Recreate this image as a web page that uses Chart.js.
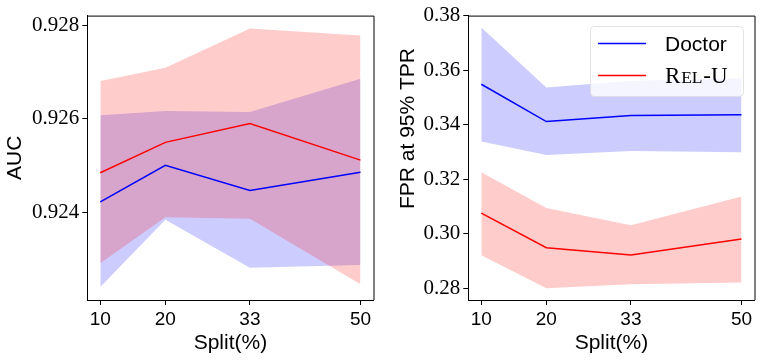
<!DOCTYPE html>
<html>
<head>
<meta charset="utf-8">
<script src="https://cdn.jsdelivr.net/npm/chart.js"></script>
<style>
  body { margin: 0; background: #fff; }
  .panel { position: absolute; top: 0; width: 381px; height: 363px; }
</style>
</head>
<body>
<div class="panel" style="left:0"><canvas id="aucChart" width="381" height="363"></canvas></div>
<div class="panel" style="left:381px"><canvas id="fprChart" width="381" height="363"></canvas></div>
<script>
const splits = [10, 20, 33, 50];

const aucDoctor   = [0.92423, 0.92501, 0.92447, 0.92486];
const aucDoctorLo = [0.92241, 0.92385, 0.92282, 0.92288];
const aucDoctorHi = [0.92608, 0.92617, 0.92615, 0.92686];
const aucRelu     = [0.92485, 0.92550, 0.92590, 0.92512];
const aucReluLo   = [0.92292, 0.92390, 0.92387, 0.92247];
const aucReluHi   = [0.92681, 0.92709, 0.92793, 0.92778];

const fprDoctor   = [0.3549, 0.3412, 0.3434, 0.3437];
const fprDoctorLo = [0.3339, 0.3289, 0.3304, 0.3299];
const fprDoctorHi = [0.3757, 0.3537, 0.3562, 0.3571];
const fprRelu     = [0.3076, 0.2949, 0.2922, 0.2981];
const fprReluLo   = [0.2921, 0.2800, 0.2815, 0.2821];
const fprReluHi   = [0.3226, 0.3095, 0.3031, 0.3137];

const aucTicks = [0.924, 0.926, 0.928];
const fprTicks = [0.28, 0.30, 0.32, 0.34, 0.36, 0.38];

const BLUE = 'rgb(0,0,255)';
const RED = 'rgb(255,0,0)';
const BLUE_BAND = 'rgba(0,0,255,0.2)';
const RED_BAND = 'rgba(255,0,0,0.2)';

const pts = arr => splits.map((s, i) => ({x: s, y: arr[i]}));

function makeDatasets(doc, docLo, docHi, rel, relLo, relHi) {
  return [
    {label: 'Doctor', data: pts(doc), borderColor: BLUE, borderWidth: 1.5, pointRadius: 0, fill: false, order: 0},
    {label: 'Rel-U', data: pts(rel), borderColor: RED, borderWidth: 1.5, pointRadius: 0, fill: false, order: 0},
    {label: '', data: pts(docHi), borderWidth: 0, pointRadius: 0, fill: false, order: 3},
    {label: '', data: pts(docLo), borderWidth: 0, pointRadius: 0, fill: 2, backgroundColor: BLUE_BAND, order: 2},
    {label: '', data: pts(relHi), borderWidth: 0, pointRadius: 0, fill: false, order: 3},
    {label: '', data: pts(relLo), borderWidth: 0, pointRadius: 0, fill: 4, backgroundColor: RED_BAND, order: 1}
  ];
}

// top and right spines
const framePlugin = {
  id: 'frame',
  afterDraw(chart) {
    const {ctx, chartArea: a} = chart;
    ctx.save();
    ctx.strokeStyle = '#000';
    ctx.lineWidth = 1;
    ctx.beginPath();
    ctx.moveTo(a.left, a.top + 0.5);
    ctx.lineTo(a.right + 0.5, a.top + 0.5);
    ctx.lineTo(a.right + 0.5, a.bottom);
    ctx.stroke();
    ctx.restore();
  }
};

// legend inside the plot, upper right
const insideLegend = {
  id: 'insideLegend',
  afterDraw(chart) {
    const ctx = chart.ctx;
    ctx.save();
    ctx.fillStyle = 'rgba(255,255,255,0.8)';
    ctx.strokeStyle = 'rgba(220,220,220,0.8)';
    ctx.lineWidth = 1;
    ctx.beginPath();
    ctx.roundRect(209.5, 26.5, 153, 70, 4);
    ctx.fill();
    ctx.stroke();

    const items = chart.data.datasets.filter(d => d.label);
    const rows = [43.5, 75.5];
    items.forEach((d, i) => {
      ctx.strokeStyle = d.borderColor;
      ctx.lineWidth = 1.3;
      ctx.beginPath();
      ctx.moveTo(217, rows[i]);
      ctx.lineTo(265, rows[i]);
      ctx.stroke();
    });

    ctx.fillStyle = '#000';
    ctx.textBaseline = 'alphabetic';
    ctx.textAlign = 'left';
    ctx.font = '21px "Liberation Sans"';
    ctx.fillText(items[0].label, 284, 51);

    // small caps label, drawn piece by piece
    let x = 284;
    const base = 83.3;
    const parts = [['R', 23], ['EL', 17.5], ['-U', 23]];
    parts.forEach(([t, size]) => {
      ctx.font = size + 'px "Liberation Serif"';
      ctx.fillText(t, x, base);
      x += ctx.measureText(t).width + 0.8;
    });
    ctx.restore();
  }
};

// rotated y title for the right panel (sits above the axis centre in the reference)
const fprTitle = {
  id: 'fprTitle',
  afterDraw(chart) {
    const ctx = chart.ctx;
    ctx.save();
    ctx.translate(27, 128.5);
    ctx.rotate(-Math.PI / 2);
    ctx.font = '21px "Liberation Sans"';
    ctx.fillStyle = '#000';
    ctx.textAlign = 'center';
    ctx.textBaseline = 'middle';
    ctx.fillText('FPR at 95% TPR', 0, 0);
    ctx.restore();
  }
};

function makeOptions(yMin, yMax, yTicks, digits, yTitle) {
  return {
    responsive: false,
    animation: false,
    devicePixelRatio: 1,
    layout: {padding: {top: 14.7, right: 7.5, left: 0, bottom: 0}},
    plugins: {legend: {display: false}, tooltip: {enabled: false}},
    scales: {
      x: {
        type: 'linear',
        min: 8,
        max: 52,
        afterBuildTicks: s => { s.ticks = splits.map(v => ({value: v})); },
        afterFit: s => { s.height = 63; },
        grid: {drawOnChartArea: false, drawTicks: true, tickLength: 5, color: '#000'},
        border: {color: '#000', width: 1},
        ticks: {color: '#000', padding: 3, font: {family: 'Liberation Sans', size: 19}, maxRotation: 0},
        title: {display: true, text: 'Split(%)', color: '#000', font: {family: 'Liberation Sans', size: 21}, padding: {top: 0, bottom: 7}}
      },
      y: {
        min: yMin,
        max: yMax,
        afterBuildTicks: s => { s.ticks = yTicks.map(v => ({value: v})); },
        afterFit: s => { s.width = 87.3; },
        grid: {drawOnChartArea: false, drawTicks: true, tickLength: 5, color: '#000'},
        border: {color: '#000', width: 1},
        ticks: {color: '#000', padding: 3, font: {family: 'Liberation Serif', size: 21},
                callback: v => v.toFixed(digits)},
        title: {display: yTitle !== '', text: yTitle, color: '#000', font: {family: 'Liberation Sans', size: 21}, padding: {top: 3, bottom: 0}}
      }
    }
  };
}

new Chart(document.getElementById('aucChart').getContext('2d'), {
  type: 'line',
  data: {datasets: makeDatasets(aucDoctor, aucDoctorLo, aucDoctorHi, aucRelu, aucReluLo, aucReluHi)},
  options: makeOptions(0.922134, 0.928206, aucTicks, 3, 'AUC'),
  plugins: [framePlugin]
});

new Chart(document.getElementById('fprChart').getContext('2d'), {
  type: 'line',
  data: {datasets: makeDatasets(fprDoctor, fprDoctorLo, fprDoctorHi, fprRelu, fprReluLo, fprReluHi)},
  options: makeOptions(0.2757, 0.3801, fprTicks, 2, ''),
  plugins: [framePlugin, insideLegend, fprTitle]
});
</script>
</body>
</html>
